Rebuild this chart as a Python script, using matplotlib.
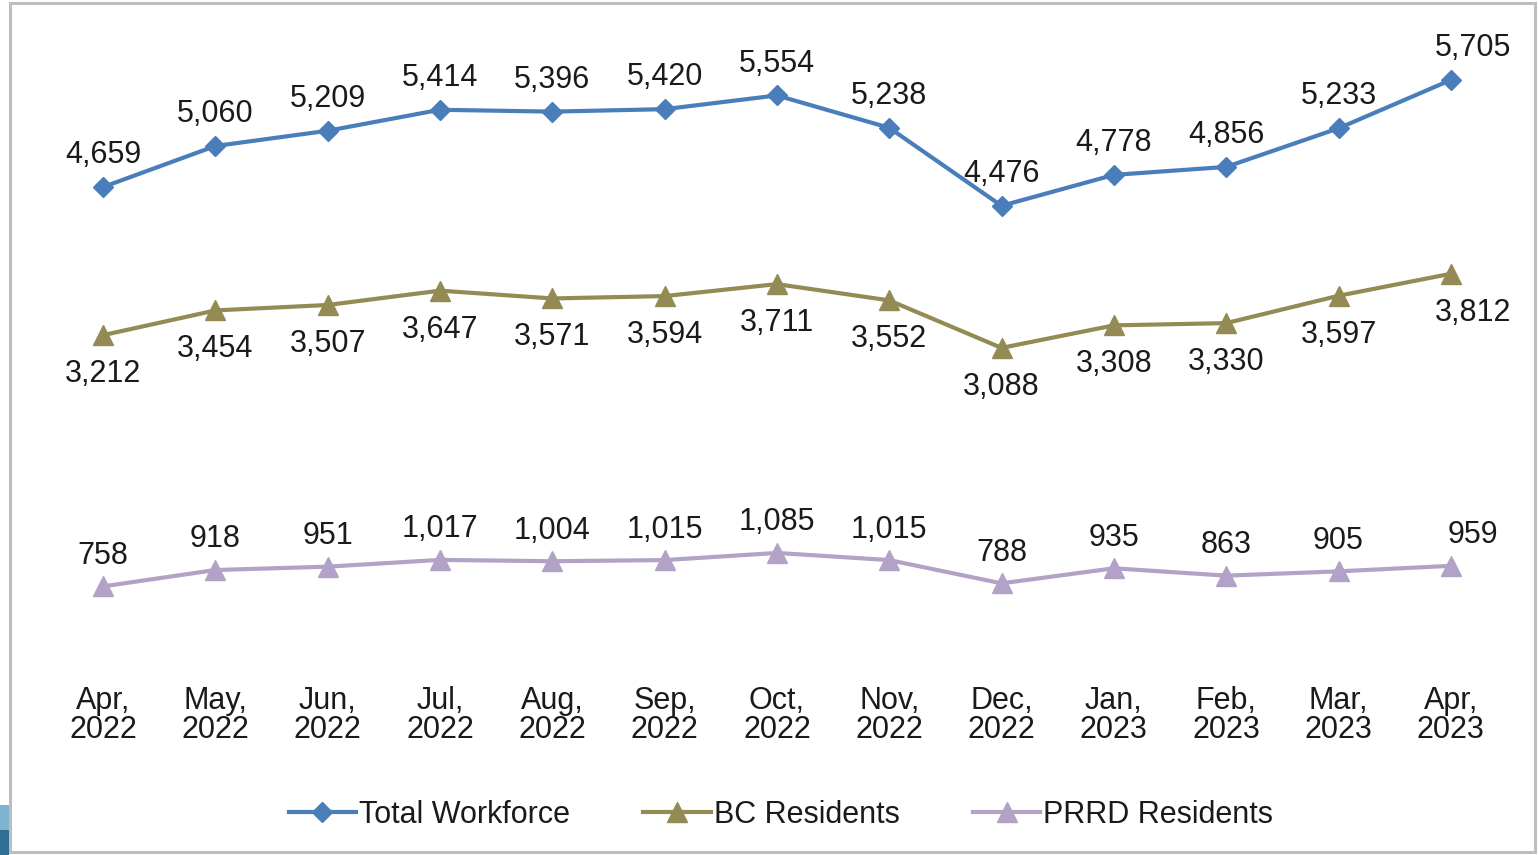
import matplotlib.pyplot as plt
from matplotlib.patches import Rectangle

months = ["Apr,\n2022", "May,\n2022", "Jun,\n2022", "Jul,\n2022", "Aug,\n2022",
          "Sep,\n2022", "Oct,\n2022", "Nov,\n2022", "Dec,\n2022", "Jan,\n2023",
          "Feb,\n2023", "Mar,\n2023", "Apr,\n2023"]
total_workforce = [4659, 5060, 5209, 5414, 5396, 5420, 5554, 5238, 4476, 4778, 4856, 5233, 5705]
bc_residents = [3212, 3454, 3507, 3647, 3571, 3594, 3711, 3552, 3088, 3308, 3330, 3597, 3812]
prrd_residents = [758, 918, 951, 1017, 1004, 1015, 1085, 1015, 788, 935, 863, 905, 959]

plt.rcParams["font.family"] = ["Liberation Sans", "DejaVu Sans"]

W, H = 1538, 855
fig = plt.figure(figsize=(W / 100, H / 100), dpi=100)
fig.patch.set_facecolor("white")

# outer frame, as in the source slide
fig.add_artist(Rectangle((10 / W, 3 / H), (W - 13) / W, (H - 6) / H, transform=fig.transFigure,
                         fill=False, edgecolor="#bdbdbd", linewidth=2.2))
fig.add_artist(Rectangle((0, 0), 9 / W, 50 / H, transform=fig.transFigure,
                         facecolor="#7fb3d0", edgecolor="none"))
fig.add_artist(Rectangle((0, 0), 9 / W, 25 / H, transform=fig.transFigure,
                         facecolor="#2f6f93", edgecolor="none"))

ax = fig.add_axes([46.8 / W, 1 - 664 / H, (1507 - 46.8) / W, (664 - 20) / H])
ax.set_xlim(-0.5, 12.5)
ax.set_ylim(0, 6291)
for s in ax.spines.values():
    s.set_visible(False)
ax.set_yticks([])

x = list(range(len(months)))
series = [
    ("Total Workforce", total_workforce, "#4a7ebb", "D", 10, 23),
    ("BC Residents", bc_residents, "#948a54", "^", 15, -28),
    ("PRRD Residents", prrd_residents, "#b3a2c7", "^", 15, 22),
]
for name, vals, color, mk, ms, dy in series:
    ax.plot(x, vals, color=color, lw=3, marker=mk, markersize=ms, label=name,
            solid_joinstyle="miter")
    for i, v in enumerate(vals):
        dx = 16 if i == len(vals) - 1 else 0
        ax.annotate(f"{v:,}", (i, v), xytext=(dx, dy), textcoords="offset points",
                    ha="center", va="center", fontsize=22, color="#1a1a1a")

ax.set_xticks(x)
ax.set_xticklabels(months, fontsize=22, color="#1a1a1a")
ax.tick_params(axis="x", length=0, pad=16)
for lbl in ax.get_xticklabels():
    lbl.set_linespacing(0.95)

fig.legend(loc="center", bbox_to_anchor=(781 / W, 1 - 815 / H), ncol=3, frameon=False,
           fontsize=22, handlelength=2.2, handletextpad=0.1, columnspacing=2.4,
           labelcolor="#1a1a1a")

fig.savefig("out.png", dpi=100, facecolor="white")
